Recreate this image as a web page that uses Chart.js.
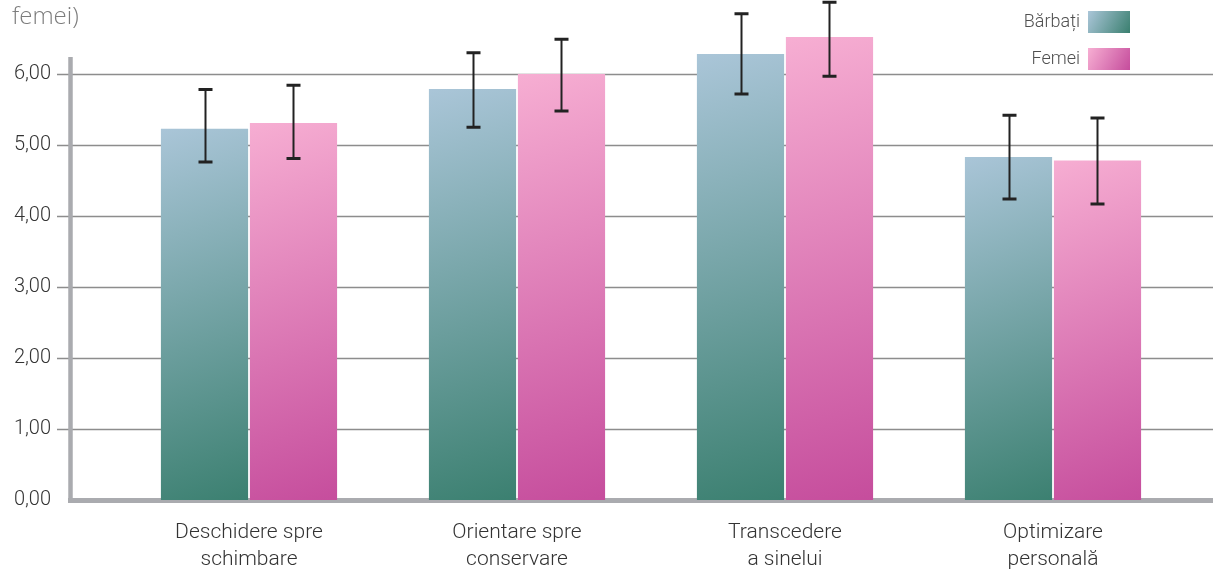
<!DOCTYPE html>
<html>
<head>
<meta charset="utf-8">
<script src="https://cdn.jsdelivr.net/npm/chart.js@4.4.1/dist/chart.umd.min.js"></script>
<style>
  html, body { margin: 0; padding: 0; background: #ffffff; }
  #wrap { position: relative; width: 1213px; height: 570px; overflow: hidden; }
</style>
</head>
<body>
<div id="wrap"><canvas id="c" width="1213" height="570"></canvas></div>
<script>
// ---- data ----
const categories = [
  ['Deschidere spre', 'schimbare'],
  ['Orientare spre', 'conservare'],
  ['Transcedere', 'a sinelui'],
  ['Optimizare', 'personală']
];
const seriesNames = ['Bărbați', 'Femei'];
const barbati     = [5.23, 5.79, 6.28, 4.83];
const barbatiLow  = [4.76, 5.25, 5.72, 4.24];
const barbatiHigh = [5.78, 6.30, 6.85, 5.42];
const femei       = [5.31, 6.00, 6.52, 4.78];
const femeiLow    = [4.81, 5.48, 5.97, 4.17];
const femeiHigh   = [5.84, 6.49, 7.01, 5.38];
const yTickValues = [0, 1, 2, 3, 4, 5, 6];
const titleFragment = 'femei)';

// ---- styling ----
const palettes = [
  { top: '#abc6d9', bottom: '#3a7f6f' },
  { top: '#f7afd3', bottom: '#c54c9c' }
];
const lows = [barbatiLow, femeiLow];
const highs = [barbatiHigh, femeiHigh];

function barFill(c) {
  const chart = c.chart;
  const xs = chart.scales.x, ys = chart.scales.y;
  const pal = palettes[c.datasetIndex];
  if (!xs || !ys || !chart.chartArea || typeof c.raw !== 'number') return pal.bottom;
  const yTop = ys.getPixelForValue(c.raw);
  const yBot = ys.getPixelForValue(0);
  const xc = xs.getPixelForValue(c.dataIndex) + (c.datasetIndex === 0 ? -44 : 44);
  const g = chart.ctx.createLinearGradient(xc - 60, yTop, xc + 60, yBot);
  g.addColorStop(0, pal.top);
  g.addColorStop(1, pal.bottom);
  return g;
}

const axesPlugin = {
  id: 'axesDeco',
  beforeDatasetsDraw(chart) {
    const ctx = chart.ctx, ys = chart.scales.y;
    ctx.save();
    ctx.strokeStyle = '#8d8d8d';
    ctx.lineWidth = 1.6;
    yTickValues.forEach(v => {
      if (v === 0) return;
      const y = Math.round(ys.getPixelForValue(v)) + 0.5;
      ctx.beginPath();
      ctx.moveTo(57, y);
      ctx.lineTo(1213, y);
      ctx.stroke();
    });
    ctx.strokeStyle = '#aaabaf';
    ctx.lineWidth = 4.5;
    ctx.beginPath();
    ctx.moveTo(70.5, 57);
    ctx.lineTo(70.5, ys.getPixelForValue(0) + 2.5);
    ctx.stroke();
    ctx.lineWidth = 5;
    ctx.beginPath();
    const y0 = ys.getPixelForValue(0) + 0.5;
    ctx.moveTo(68, y0);
    ctx.lineTo(1213, y0);
    ctx.stroke();
    ctx.restore();
  },
  afterDatasetsDraw(chart) {
    const ctx = chart.ctx, ys = chart.scales.y;
    ctx.save();
    ctx.strokeStyle = '#222222';
    chart.data.datasets.forEach((ds, di) => {
      const meta = chart.getDatasetMeta(di);
      meta.data.forEach((el, i) => {
        const x = Math.round(el.x) + 0.5;
        const yh = ys.getPixelForValue(highs[di][i]);
        const yl = ys.getPixelForValue(lows[di][i]);
        ctx.lineWidth = 2;
        ctx.beginPath();
        ctx.moveTo(x, yh);
        ctx.lineTo(x, yl);
        ctx.stroke();
        ctx.lineWidth = 3;
        ctx.beginPath();
        ctx.moveTo(x - 7, yh); ctx.lineTo(x + 7, yh);
        ctx.moveTo(x - 7, yl); ctx.lineTo(x + 7, yl);
        ctx.stroke();
      });
    });
    ctx.restore();
  },
  afterDraw(chart) {
    const ctx = chart.ctx;
    ctx.save();
    ctx.font = '300 24px "Open Sans"';
    ctx.fillStyle = '#7c7c7c';
    ctx.textBaseline = 'alphabetic';
    ctx.textAlign = 'left';
    ctx.fillText(titleFragment, 12, 24);
    ctx.font = '300 18px Roboto';
    ctx.textAlign = 'right';
    ctx.textBaseline = 'middle';
    const rows = [22, 59];
    seriesNames.forEach((name, i) => {
      ctx.fillStyle = '#505050';
      ctx.fillText(name, 1080, rows[i]);
      const g = ctx.createLinearGradient(1088, rows[i] - 11, 1130, rows[i] + 11);
      g.addColorStop(0, palettes[i].top);
      g.addColorStop(1, palettes[i].bottom);
      ctx.fillStyle = g;
      ctx.fillRect(1088, rows[i] - 11, 42, 22);
    });
    ctx.restore();
  }
};

new Chart(document.getElementById('c'), {
  type: 'bar',
  data: {
    labels: categories,
    datasets: [
      { label: seriesNames[0], data: barbati, backgroundColor: barFill, borderWidth: 0 },
      { label: seriesNames[1], data: femei, backgroundColor: barFill, borderWidth: 0 }
    ]
  },
  options: {
    responsive: false,
    animation: false,
    events: [],
    layout: { padding: { top: 3, right: 26, left: 0, bottom: 0 } },
    datasets: { bar: { categoryPercentage: 0.664, barPercentage: 0.98 } },
    plugins: { legend: { display: false }, tooltip: { enabled: false }, title: { display: false } },
    scales: {
      x: {
        grid: { display: false, drawTicks: false },
        border: { display: false },
        ticks: {
          color: '#333333',
          font: { family: 'Roboto', size: 21, weight: 300, lineHeight: 1.3 },
          padding: 19,
          maxRotation: 0,
          autoSkip: false
        },
        afterFit(s) { s.height = 70; s.paddingLeft = 0; s.paddingRight = 0; }
      },
      y: {
        min: 0, max: 7,
        grid: { display: false, drawTicks: false },
        border: { display: false },
        ticks: {
          stepSize: 1,
          color: '#333333',
          font: { family: 'Roboto', size: 20, weight: 300 },
          padding: 64,
          callback: v => yTickValues.includes(v) ? v.toFixed(2).replace('.', ',') : ''
        },
        afterFit(s) { s.width = 115; s.paddingTop = 0; s.paddingBottom = 0; }
      }
    }
  },
  plugins: [axesPlugin]
});
</script>
</body>
</html>
